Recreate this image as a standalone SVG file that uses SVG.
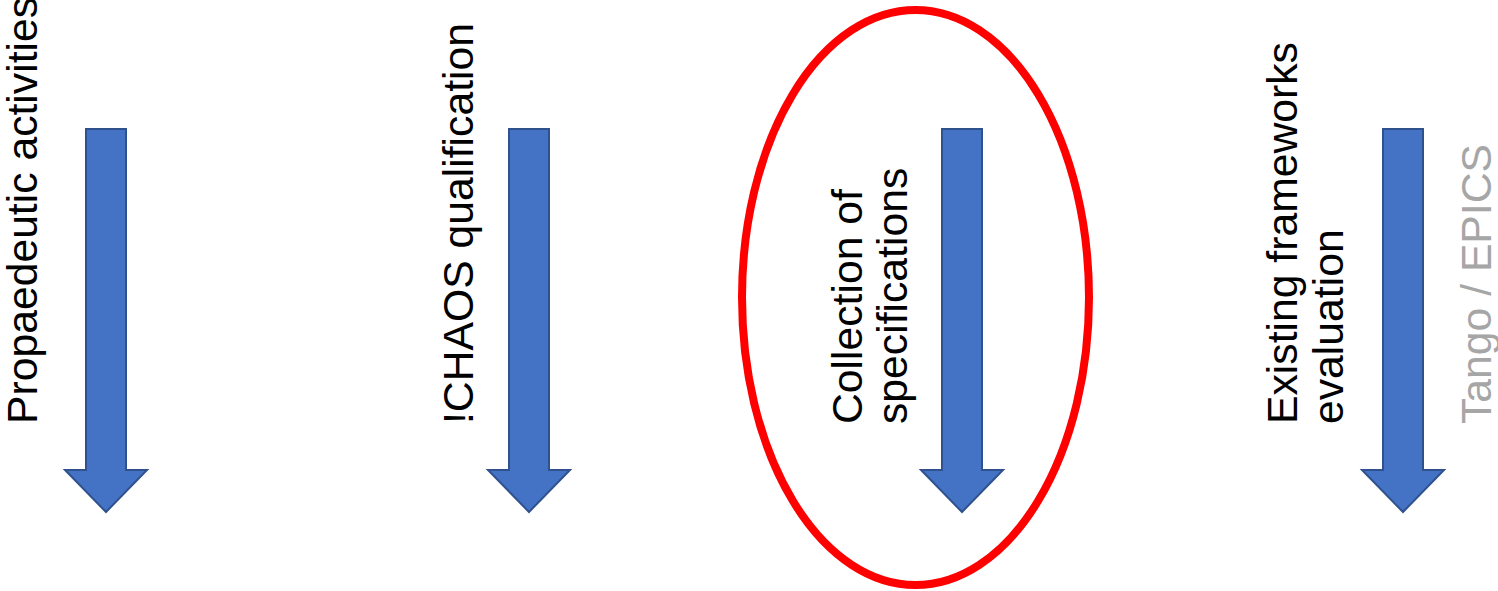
<svg xmlns="http://www.w3.org/2000/svg" xmlns:xlink="http://www.w3.org/1999/xlink" width="1498" height="591" viewBox="0 0 1498 591">
<style>
.lbl{font-family:"Liberation Sans",Arial,sans-serif;font-size:42.7px;fill:#000}
.gray{fill:#A6A6A6}
.arrow{fill:#4472C4;stroke:#2F528F;stroke-width:2}
</style>
<defs>
<path id="downArrow" class="arrow" d="M-20,129 H20 V470 H41 L0,512 L-41,470 H-20 Z"/>
</defs>
<rect width="1498" height="591" fill="#fff"/>
<g id="connectors">
<use xlink:href="#downArrow" href="#downArrow" transform="translate(106,0)"/>
<use xlink:href="#downArrow" href="#downArrow" transform="translate(529,0)"/>
<use xlink:href="#downArrow" href="#downArrow" transform="translate(962,0)"/>
<use xlink:href="#downArrow" href="#downArrow" transform="translate(1403,0)"/>
</g>
<g id="node-propaedeutic">
<text class="lbl" transform="translate(37,424) rotate(-90)">Propaedeutic activities</text>
</g>
<g id="node-chaos">
<text class="lbl" transform="translate(473,424) rotate(-90)">!CHAOS qualification</text>
</g>
<g id="node-collection">
<ellipse cx="915.5" cy="297.5" rx="173.5" ry="287.5" fill="none" stroke="#FF0000" stroke-width="8"/>
<text class="lbl" transform="translate(862,424) rotate(-90)">Collection of</text>
<text class="lbl" transform="translate(907,424) rotate(-90)">specifications</text>
</g>
<g id="node-existing">
<text class="lbl" transform="translate(1297,424) rotate(-90)">Existing frameworks</text>
<text class="lbl" transform="translate(1343,424) rotate(-90)">evaluation</text>
</g>
<g id="node-tango">
<text class="lbl gray" transform="translate(1491,424) rotate(-90)">Tango / EPICS</text>
</g>
</svg>
